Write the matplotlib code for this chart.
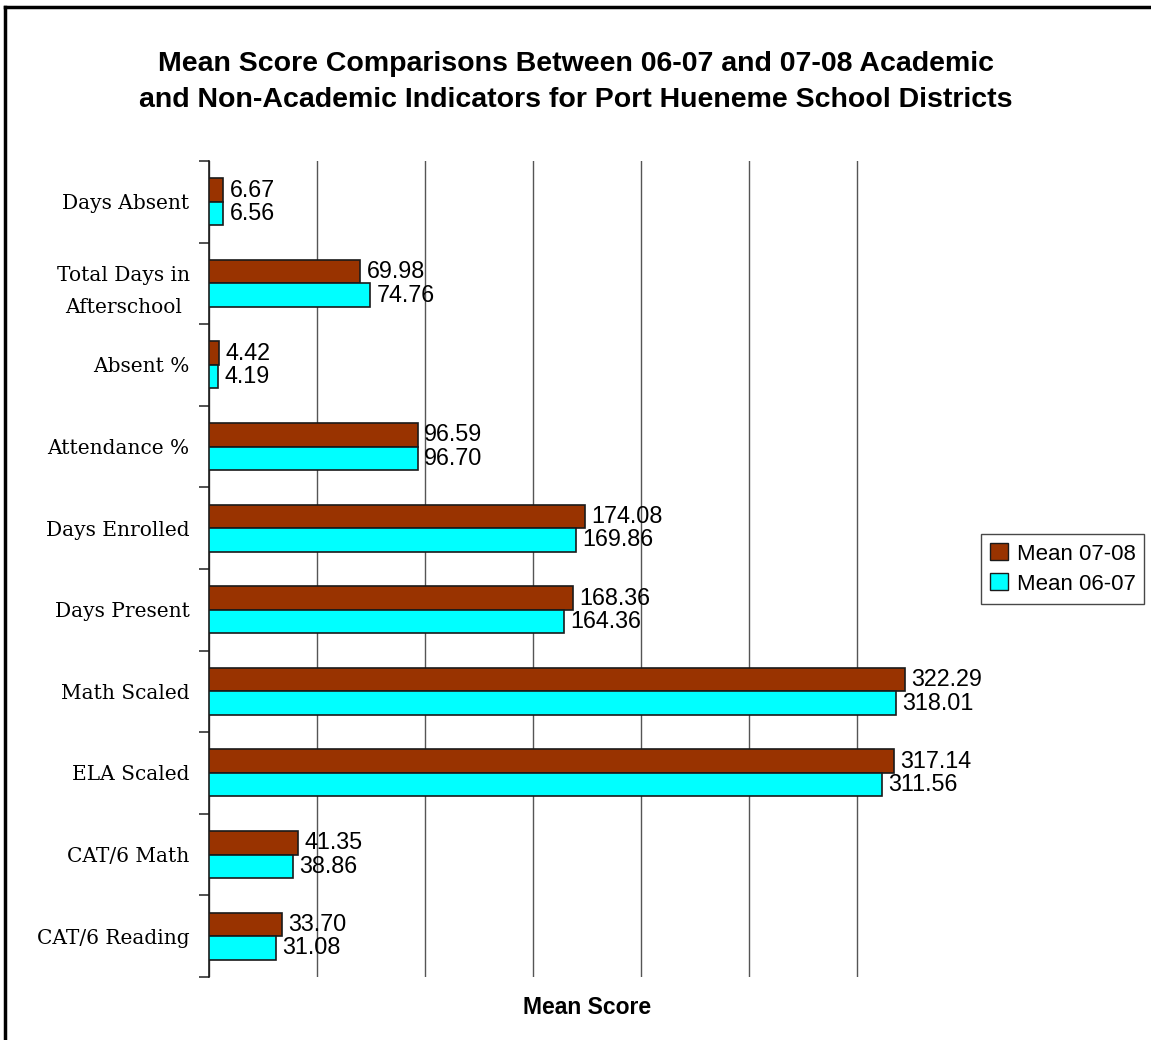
import matplotlib.pyplot as plt
from matplotlib.lines import Line2D
from matplotlib.patches import Patch
import numpy as np

# categories top to bottom
categories = ['Days Absent', 'Total Days in\nAfterschool', 'Absent %', 'Attendance %',
              'Days Enrolled', 'Days Present', 'Math Scaled', 'ELA Scaled',
              'CAT/6 Math', 'CAT/6 Reading']
mean_0708 = [6.67, 69.98, 4.42, 96.59, 174.08, 168.36, 322.29, 317.14, 41.35, 33.70]
mean_0607 = [6.56, 74.76, 4.19, 96.70, 169.86, 164.36, 318.01, 311.56, 38.86, 31.08]

brown = '#993300'
cyan = '#00FFFF'

fig = plt.figure(figsize=(11.51, 10.40), dpi=100)
ax = fig.add_axes([0.1816, 0.0606, 0.6568, 0.7846])

y = np.arange(len(categories))
h = 0.288
ax.barh(y - h / 2, mean_0708, height=h, color=brown, edgecolor='#1a1a1a', linewidth=1.2,
        zorder=3, label='Mean 07-08')
ax.barh(y + h / 2, mean_0607, height=h, color=cyan, edgecolor='#1a1a1a', linewidth=1.2,
        zorder=3, label='Mean 06-07')

# value labels next to bar ends
for i in range(len(categories)):
    ax.text(mean_0708[i] + 3, y[i] - h / 2, '%.2f' % mean_0708[i], va='center', ha='left',
            fontsize=16.8, family='Liberation Sans', zorder=4)
    ax.text(mean_0607[i] + 3, y[i] + h / 2, '%.2f' % mean_0607[i], va='center', ha='left',
            fontsize=16.8, family='Liberation Sans', zorder=4)

ax.set_xlim(0, 350)
ax.set_ylim(len(categories) - 0.5, -0.5)
ax.set_xticks(np.arange(0, 350, 50))
ax.set_xticklabels([])
ax.tick_params(axis='x', length=0)
ax.grid(axis='x', color='#555555', linewidth=1, zorder=0)

ax.set_yticks(y)
ax.set_yticklabels(categories, family='DejaVu Serif', fontsize=14.5, linespacing=1.85,
                   multialignment='center')
ax.tick_params(axis='y', which='major', length=0, pad=14)
ax.set_yticks(np.arange(-0.5, len(categories), 1), minor=True)
ax.tick_params(axis='y', which='minor', length=7, width=1.2, color='#333333')

for s in ['top', 'right', 'bottom']:
    ax.spines[s].set_visible(False)
ax.spines['left'].set_color('#1a1a1a')
ax.spines['left'].set_linewidth(1.2)

ax.set_xlabel('Mean Score', family='Liberation Sans', fontsize=16.5, fontweight='bold',
              labelpad=10)

fig.text(0.5, 0.921, 'Mean Score Comparisons Between 06-07 and 07-08 Academic\n'
         'and Non-Academic Indicators for Port Hueneme School Districts',
         ha='center', va='center', family='Liberation Sans', fontsize=20.5,
         fontweight='bold', linespacing=1.5)

handles = [Patch(facecolor=brown, edgecolor='#1a1a1a'), Patch(facecolor=cyan, edgecolor='#1a1a1a')]
leg = fig.legend(handles, ['Mean 07-08', 'Mean 06-07'], loc='center left',
                 bbox_to_anchor=(981 / 1151, 1 - 569 / 1040),
                 prop={'family': 'Liberation Sans', 'size': 16}, frameon=True, fancybox=False,
                 edgecolor='#1a1a1a', handlelength=0.8, handleheight=0.8, handletextpad=0.4,
                 borderpad=0.4, labelspacing=0.4, borderaxespad=0)
leg.get_frame().set_linewidth(1.0)

# outer border (left and top edges visible)
fig.add_artist(Line2D([5 / 1151, 5 / 1151], [0, 1 - 7 / 1040], transform=fig.transFigure,
                      color='black', linewidth=2.5))
fig.add_artist(Line2D([5 / 1151, 1], [1 - 7 / 1040, 1 - 7 / 1040], transform=fig.transFigure,
                      color='black', linewidth=2.5))

fig.savefig('out.png', dpi=100)
